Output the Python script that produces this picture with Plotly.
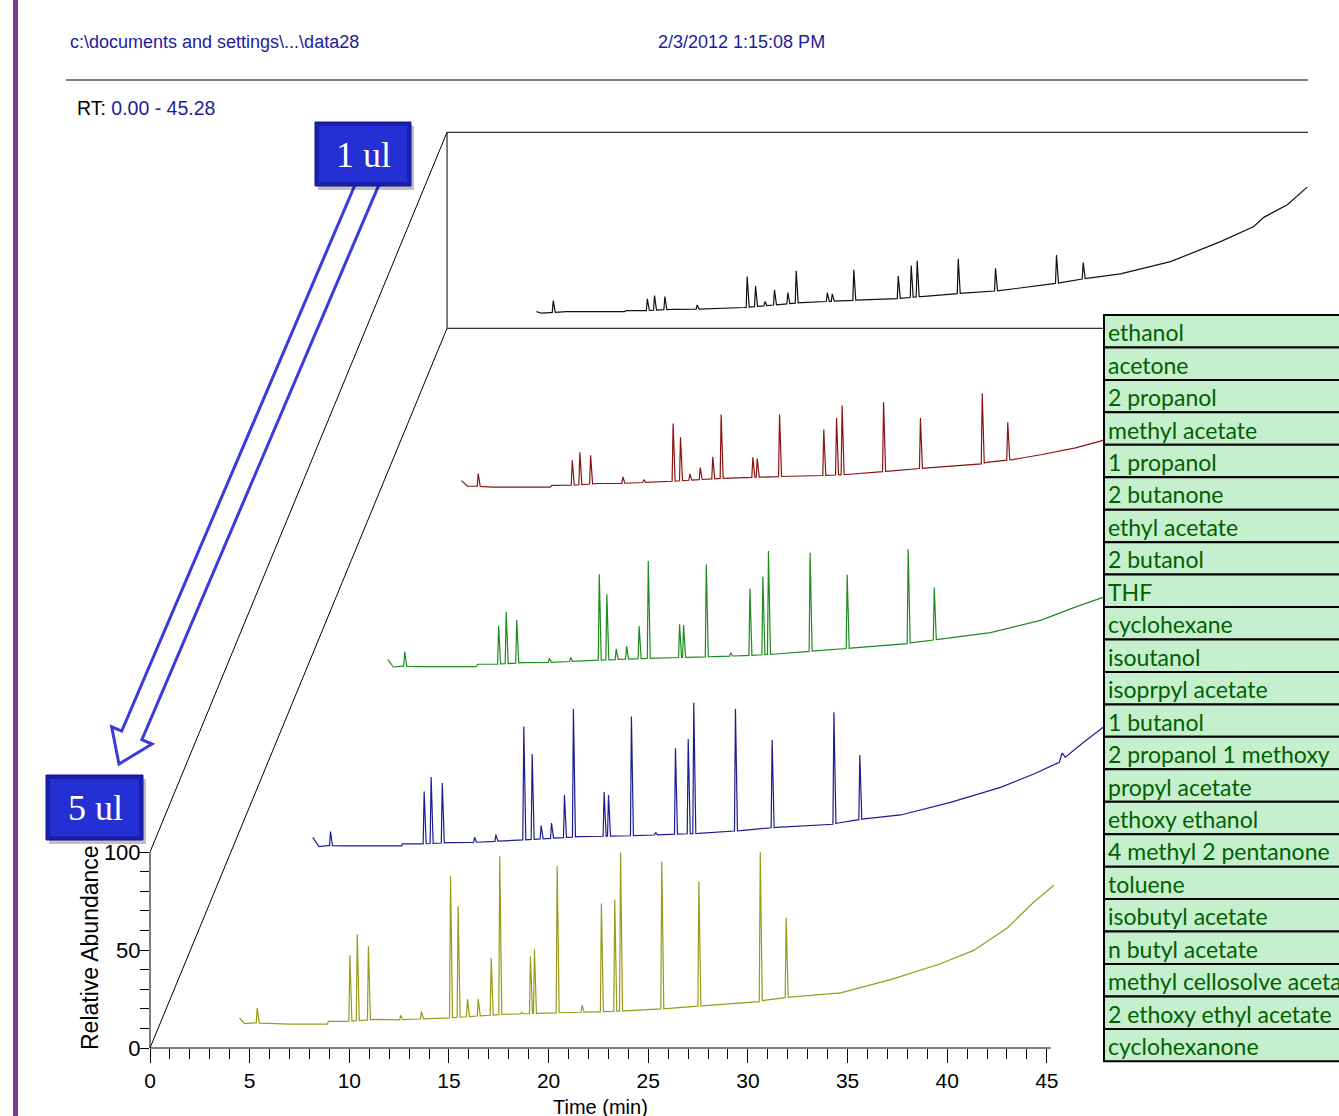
import numpy as np
import plotly.graph_objects as go

# ---------------- data ----------------
# Each chromatogram: baseline readings (time, abundance) and peaks (retention time, apex abundance)
OLIVE_BASE_T = [4.49, 4.75, 5.25, 5.9, 7.0, 8.9, 8.95, 9.9, 11.3, 12.3, 14.9, 17.8, 20.9, 22.4, 23.8, 25.9, 27.7, 30.4, 30.8, 32.1, 34.65, 37.16, 39.66, 41.33, 43.01, 44.35, 45.35]
OLIVE_BASE_V = [15.3, 12.4, 12.8, 12.6, 12.2, 12.2, 13.6, 13.6, 14.6, 14.3, 15.3, 17.2, 18.1, 18.4, 18.9, 20.1, 21.5, 23.2, 24.3, 26.0, 28.1, 34.9, 43.0, 49.8, 61.2, 74.5, 83.0]
OLIVE_PEAK_T = [5.38, 10.03, 10.40, 10.96, 12.58, 13.62, 15.08, 15.46, 15.93, 16.47, 17.12, 17.55, 18.64, 19.09, 19.29, 20.43, 21.68, 22.65, 23.32, 23.61, 25.68, 27.54, 30.62, 31.92]
OLIVE_PEAK_H = [20.4, 47.3, 58.0, 51.9, 16.7, 18.7, 87.6, 72.3, 25.0, 25.0, 45.8, 97.8, 18.2, 46.8, 50.2, 92.9, 21.8, 73.7, 75.7, 99.7, 95.1, 84.9, 100.0, 66.5]

BLUE_BASE_T = [4.44, 4.75, 5.2, 6.0, 8.9, 8.93, 9.9, 11.3, 12.3, 14.9, 17.8, 20.9, 22.4, 23.8, 25.9, 27.7, 30.4, 30.8, 32.1, 33.94, 36.44, 38.95, 40.62, 41.9, 42.04, 42.2, 43.12, 44.05, 45.3]
BLUE_BASE_V = [15.7, 11.0, 11.5, 11.3, 11.3, 12.3, 12.3, 13.0, 13.0, 14.3, 16.0, 16.6, 17.2, 17.7, 19.1, 20.8, 22.0, 23.0, 25.1, 27.1, 33.5, 41.2, 48.0, 54.0, 58.7, 56.6, 64.2, 71.5, 80.0]
BLUE_PEAK_T = [5.33, 10.03, 10.38, 10.94, 12.56, 13.63, 15.03, 15.45, 15.90, 16.42, 17.07, 17.52, 19.06, 19.28, 20.43, 21.64, 22.64, 23.28, 23.56, 25.65, 27.49, 30.59, 31.89]
BLUE_PEAK_H = [18.6, 39.0, 46.5, 43.4, 15.7, 17.1, 72.2, 58.2, 21.7, 23.0, 37.3, 81.2, 38.8, 37.3, 77.3, 18.2, 61.1, 65.9, 84.3, 81.2, 65.5, 79.5, 57.7]

GREEN_BASE_T = [4.48, 4.75, 5.2, 6.0, 8.9, 9.0, 9.9, 11.3, 12.3, 14.9, 17.8, 20.9, 22.4, 23.8, 25.9, 27.7, 30.4, 30.8, 32.1, 34.72, 37.23, 38.9, 40.33, 42.0]
GREEN_BASE_V = [14.7, 10.8, 11.2, 11.0, 11.0, 12.2, 12.2, 13.0, 13.0, 14.2, 15.3, 16.1, 16.6, 17.3, 19.0, 20.4, 22.4, 23.2, 24.9, 28.3, 34.6, 41.1, 46.2, 55.0]
GREEN_PEAK_T = [5.33, 10.04, 10.42, 10.95, 12.59, 13.65, 15.09, 15.47, 15.94, 16.46, 17.09, 17.55, 19.12, 19.32, 20.46, 21.68, 22.65, 23.30, 23.58, 25.67, 27.53, 30.59, 31.90]
GREEN_PEAK_H = [18.6, 31.7, 38.9, 34.8, 15.3, 15.6, 58.1, 47.9, 20.0, 21.4, 31.7, 64.9, 32.6, 32.2, 63.2, 18.0, 50.8, 56.9, 70.0, 69.1, 57.8, 70.9, 51.3]

RED_BASE_T = [4.45, 4.75, 5.2, 6.0, 8.9, 9.0, 9.9, 11.3, 12.3, 14.9, 17.8, 20.9, 22.4, 23.8, 25.9, 27.7, 30.4, 30.8, 32.1, 33.59, 35.26, 36.51, 38.0]
RED_BASE_V = [14.1, 11.2, 11.2, 10.8, 10.8, 11.7, 11.7, 12.6, 12.6, 13.7, 15.4, 16.3, 16.6, 17.2, 18.9, 20.5, 22.2, 23.4, 24.8, 27.4, 30.8, 34.2, 40.0]
RED_PEAK_T = [5.29, 10.01, 10.39, 10.93, 12.55, 13.60, 15.07, 15.44, 15.91, 16.43, 17.06, 17.48, 19.07, 19.29, 20.41, 22.63, 23.27, 23.55, 25.63, 27.48, 30.58, 31.86]
RED_PEAK_H = [17.7, 24.5, 28.5, 27.0, 16.0, 14.6, 43.2, 36.2, 17.5, 20.7, 26.2, 47.8, 26.0, 25.3, 47.8, 40.1, 46.0, 52.4, 54.1, 46.0, 58.5, 43.9]

BLACK_BASE_T = [4.49, 4.75, 5.2, 6.0, 8.9, 9.0, 9.9, 11.3, 12.3, 14.9, 17.8, 20.9, 22.4, 23.8, 25.9, 27.7, 30.4, 30.8, 32.1, 33.79, 36.3, 38.81, 40.48, 40.98, 42.16, 43.16]
BLACK_BASE_V = [8.5, 7.7, 8.0, 8.5, 8.5, 9.0, 9.0, 9.7, 9.7, 10.6, 13.1, 14.5, 15.0, 16.2, 17.9, 19.2, 22.7, 23.3, 25.5, 27.8, 34.0, 44.2, 51.9, 56.6, 63.0, 72.0]
BLACK_PEAK_T = [5.33, 10.05, 10.41, 10.93, 12.55, 15.06, 15.48, 15.95, 16.43, 17.10, 17.52, 19.08, 19.33, 20.41, 22.64, 23.29, 23.59, 25.65, 27.52, 30.58, 31.92]
BLACK_PEAK_H = [14.1, 15.0, 16.7, 16.2, 11.9, 26.4, 21.6, 13.6, 19.6, 18.2, 29.3, 18.2, 17.6, 29.8, 26.7, 32.0, 34.5, 35.4, 30.6, 37.4, 33.5]

COMPOUNDS = ["ethanol", "acetone", "2 propanol", "methyl acetate", "1 propanol", "2 butanone",
             "ethyl acetate", "2 butanol", "THF", "cyclohexane", "isoutanol", "isoprpyl acetate",
             "1 butanol", "2 propanol 1 methoxy", "propyl acetate", "ethoxy ethanol",
             "4 methyl 2 pentanone", "toluene", "isobutyl acetate", "n butyl acetate",
             "methyl cellosolve acetate", "2 ethoxy ethyl acetate", "cyclohexanone"]

X_TICKS = [0, 5, 10, 15, 20, 25, 30, 35, 40, 45]
Y_TICKS = [0, 50, 100]

# ---------------- layout geometry ----------------
W, H = 1339, 1116
ML, MR, MT, MB = 150, 31, 120, 68
PW, PH = W - ML - MR, H - MT - MB
PX_PER_MIN = 19.93
PX_PER_UNIT = 1.96
XMAX = PW / PX_PER_MIN
YMAX = PH / PX_PER_UNIT
DX = 3.726   # per-trace time offset (perspective)
DY = 91.8    # per-trace abundance offset


def pxx(x):
    return (x - ML) / PW


def pxy(y):
    return (H - MB - y) / PH


def build(bt, bv, pt, ph):
    pts = list(zip(bt, bv))
    for t, h in zip(pt, ph):
        lf, rf = t - 0.05, t + 0.1
        pts.append((lf, float(np.interp(lf, bt, bv))))
        pts.append((t, h))
        pts.append((rf, float(np.interp(rf, bt, bv))))
    pts.sort(key=lambda p: p[0])
    return [p[0] for p in pts], [p[1] for p in pts]


series = [
    (OLIVE_BASE_T, OLIVE_BASE_V, OLIVE_PEAK_T, OLIVE_PEAK_H, "#9a9a1c"),
    (BLUE_BASE_T, BLUE_BASE_V, BLUE_PEAK_T, BLUE_PEAK_H, "#1c1c94"),
    (GREEN_BASE_T, GREEN_BASE_V, GREEN_PEAK_T, GREEN_PEAK_H, "#1f8a1f"),
    (RED_BASE_T, RED_BASE_V, RED_PEAK_T, RED_PEAK_H, "#8a1414"),
    (BLACK_BASE_T, BLACK_BASE_V, BLACK_PEAK_T, BLACK_PEAK_H, "#111111"),
]

fig = go.Figure()
for k, (bt, bv, pt, ph, col) in enumerate(series):
    t, v = build(bt, bv, pt, ph)
    fig.add_trace(go.Scatter(x=np.array(t) + k * DX, y=np.array(v) + k * DY, mode="lines",
                             line=dict(color=col, width=1.2), showlegend=False, hoverinfo="skip"))

shapes = []
L = dict(color="black", width=1)
# perspective lines and back plane box
shapes.append(dict(type="line", xref="x", yref="y", x0=0, y0=0, x1=4 * DX, y1=4 * DY, line=L))
shapes.append(dict(type="line", xref="x", yref="y", x0=0, y0=100, x1=4 * DX, y1=4 * DY + 100, line=L))
shapes.append(dict(type="line", xref="x", yref="y", x0=4 * DX, y0=4 * DY, x1=4 * DX, y1=4 * DY + 100, line=L))
shapes.append(dict(type="line", xref="x", yref="y", x0=4 * DX, y0=4 * DY + 100, x1=XMAX, y1=4 * DY + 100, line=L))
shapes.append(dict(type="line", xref="x", yref="y", x0=4 * DX, y0=4 * DY, x1=XMAX, y1=4 * DY, line=L))
# axis lines (only over the labelled span)
shapes.append(dict(type="line", xref="paper", yref="paper", x0=0, y0=0, x1=45.2 / XMAX, y1=0, line=L))
shapes.append(dict(type="line", xref="paper", yref="paper", x0=0, y0=0, x1=0, y1=100 / YMAX, line=L))
# header rule
shapes.append(dict(type="line", xref="paper", yref="paper", x0=pxx(66), y0=pxy(80), x1=pxx(1308), y1=pxy(80), line=L))
# purple left bar
shapes.append(dict(type="rect", xref="paper", yref="paper", x0=pxx(13), x1=pxx(18), y0=pxy(0), y1=pxy(1116),
                   fillcolor="#7a3a8e", line=dict(width=0)))

# hollow arrow from "1 ul" to "5 ul"
arrow_px = [(379.1, 184.3), (141.9, 739.7), (152.0, 744.0), (119.0, 764.0), (111.6, 726.8), (121.7, 731.1), (358.9, 175.7)]
path = "M " + " L ".join(f"{pxx(a):.5f},{pxy(b):.5f}" for a, b in arrow_px) + " Z"
shapes.append(dict(type="path", xref="paper", yref="paper", path=path, fillcolor="white",
                   line=dict(color="#3a3adf", width=3)))


def label_box(x0, y0, x1, y1):
    out = []
    out.append(dict(type="rect", xref="paper", yref="paper", x0=pxx(x0 + 3), x1=pxx(x1 + 3), y0=pxy(y0 + 4), y1=pxy(y1 + 4),
                    fillcolor="rgba(0,0,0,0.25)", line=dict(width=0)))
    out.append(dict(type="rect", xref="paper", yref="paper", x0=pxx(x0), x1=pxx(x1), y0=pxy(y0), y1=pxy(y1),
                    fillcolor="#1a1fb0", line=dict(color="#10148a", width=1)))
    out.append(dict(type="rect", xref="paper", yref="paper", x0=pxx(x0 + 4), x1=pxx(x1 - 4), y0=pxy(y0 + 4), y1=pxy(y1 - 4),
                    fillcolor="#2530d4", line=dict(width=0)))
    return out


shapes += label_box(315, 122, 411, 186)
shapes += label_box(46, 775, 143, 840)

# compound table
ROW_H = 32.45
TOP = 315
for i, name in enumerate(COMPOUNDS):
    y0 = TOP + i * ROW_H
    shapes.append(dict(type="rect", xref="paper", yref="paper", x0=pxx(1104), x1=pxx(1350), y0=pxy(y0), y1=pxy(y0 + ROW_H),
                       fillcolor="#c6efce", line=dict(color="black", width=2)))

annotations = []
for i, name in enumerate(COMPOUNDS):
    yc = TOP + (i + 0.5) * ROW_H
    annotations.append(dict(xref="paper", yref="paper", x=pxx(1106), y=pxy(yc + 1), text=name, showarrow=False,
                            xanchor="left", yanchor="middle", font=dict(family="Lato, Carlito, sans-serif", size=23, color="#006100")))

HEAD_FONT = "Liberation Sans, Arial, sans-serif"
annotations.append(dict(xref="paper", yref="paper", x=pxx(68), y=pxy(42), text="c:\\documents and settings\\...\\data28",
                        showarrow=False, xanchor="left", yanchor="middle", font=dict(family=HEAD_FONT, size=18, color="#1c1c9c")))
annotations.append(dict(xref="paper", yref="paper", x=pxx(656), y=pxy(42), text="2/3/2012 1:15:08 PM",
                        showarrow=False, xanchor="left", yanchor="middle", font=dict(family=HEAD_FONT, size=18, color="#1c1c9c")))
annotations.append(dict(xref="paper", yref="paper", x=pxx(75), y=pxy(108),
                        text="RT: <span style='color:#1c1c9c'>0.00 - 45.28</span>",
                        showarrow=False, xanchor="left", yanchor="middle", font=dict(family=HEAD_FONT, size=19.5, color="black")))
annotations.append(dict(xref="paper", yref="paper", x=pxx(363), y=pxy(155), text="1 ul", showarrow=False,
                        xanchor="center", yanchor="middle", font=dict(family="Liberation Serif, serif", size=36, color="white")))
annotations.append(dict(xref="paper", yref="paper", x=pxx(95), y=pxy(808), text="5 ul", showarrow=False,
                        xanchor="center", yanchor="middle", font=dict(family="Liberation Serif, serif", size=36, color="white")))
annotations.append(dict(xref="paper", yref="paper", x=pxx(90), y=pxy(948), text="Relative Abundance", showarrow=False,
                        textangle=-90, xanchor="center", yanchor="middle", font=dict(family="Liberation Sans, Arial", size=23, color="black")))
annotations.append(dict(xref="paper", yref="paper", x=pxx(600), y=pxy(1107), text="Time (min)", showarrow=False,
                        xanchor="center", yanchor="middle", font=dict(family="Liberation Sans, Arial", size=20, color="black")))

fig.update_layout(
    width=W, height=H,
    margin=dict(l=ML, r=MR, t=MT, b=MB, pad=0),
    paper_bgcolor="white", plot_bgcolor="white",
    showlegend=False,
    shapes=shapes, annotations=annotations,
    xaxis=dict(range=[0, XMAX], showgrid=False, zeroline=False, showline=False,
               tickmode="array", tickvals=X_TICKS, ticktext=[str(v) for v in X_TICKS],
               ticks="outside", ticklen=14, tickwidth=1, tickcolor="black",
               minor=dict(tickmode="array", tickvals=list(range(0, 46)), ticks="outside", ticklen=10, tickwidth=1, tickcolor="black"),
               tickfont=dict(family="Liberation Sans, Arial", size=21, color="black")),
    yaxis=dict(range=[0, YMAX], showgrid=False, zeroline=False, showline=False,
               tickmode="array", tickvals=Y_TICKS, ticktext=[str(v) for v in Y_TICKS],
               ticks="outside", ticklen=9, tickwidth=1, tickcolor="black", ticklabelstandoff=-5,
               minor=dict(tickmode="array", tickvals=list(range(0, 101, 10)), ticks="outside", ticklen=9, tickwidth=1, tickcolor="black"),
               tickfont=dict(family="Liberation Sans, Arial", size=22, color="black")),
)

fig.write_html("out.html", config={"displayModeBar": False},
               post_script="document.body.style.margin='0';document.body.style.overflow='hidden';")
